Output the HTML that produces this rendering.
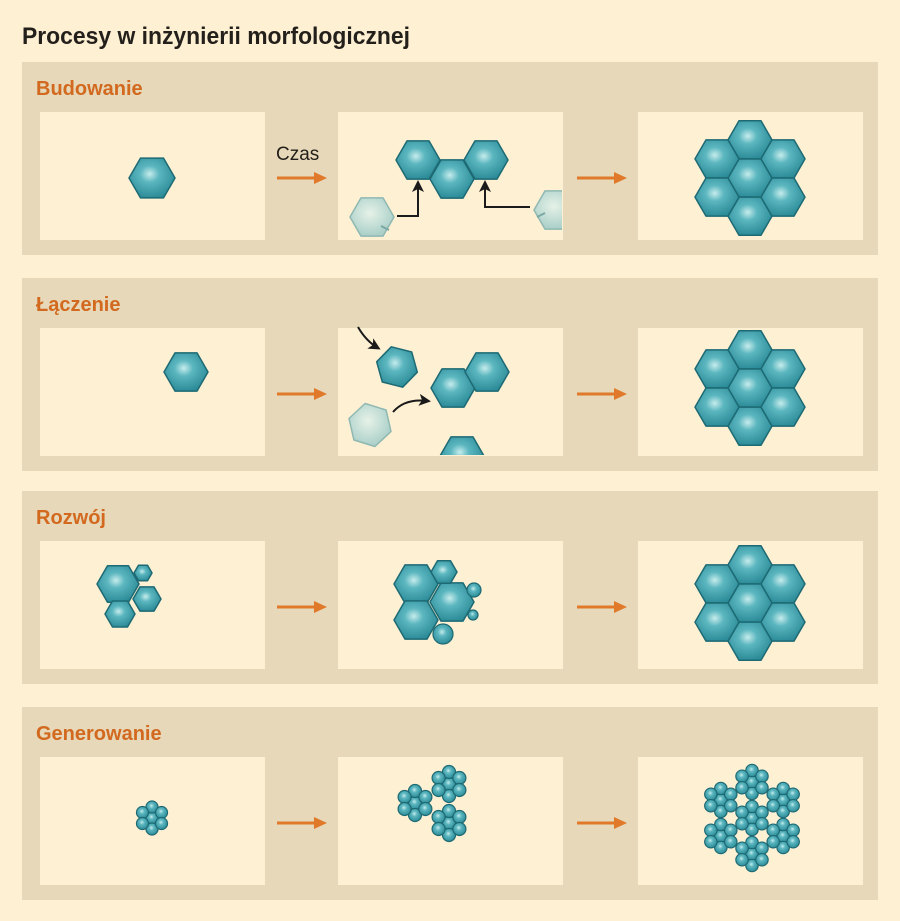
<!DOCTYPE html>
<html><head><meta charset="utf-8"><style>
html,body{margin:0;padding:0;background:#fdf0d3;}
svg{display:block;}
</style></head><body>
<svg id="s" width="900" height="921" xmlns="http://www.w3.org/2000/svg">
<defs>
<radialGradient id="g" cx="0.45" cy="0.4" r="0.6">
<stop offset="0" stop-color="#c6ecec"/><stop offset="0.35" stop-color="#5bb6bf"/><stop offset="1" stop-color="#2c8c98"/>
</radialGradient>
<radialGradient id="gf" cx="0.45" cy="0.4" r="0.6">
<stop offset="0" stop-color="#e6f2e8"/><stop offset="1" stop-color="#a9cfc8"/>
</radialGradient>
<marker id="ah" markerWidth="12" markerHeight="12" refX="9" refY="6" orient="auto" markerUnits="userSpaceOnUse">
<path d="M0,0 L12,6 L0,12 L3,6 Z" fill="#1a1a1a"/></marker>
<clipPath id="c12"><rect x="338" y="112" width="224" height="128"/></clipPath>
<clipPath id="c22"><rect x="338" y="327" width="224" height="128"/></clipPath>
</defs>
<rect width="900" height="921" fill="#fdf0d3"/>
<text x="22" y="44" font-family="Liberation Sans, sans-serif" font-weight="bold" font-size="24" fill="#231f1a" textLength="388" lengthAdjust="spacingAndGlyphs">Procesy w inżynierii morfologicznej</text>
<g id="bands"></g>
<g id="art"></g>
</svg>
<script>
var S='http://www.w3.org/2000/svg';
function el(p,t,a){var e=document.createElementNS(S,t);for(var k in a)e.setAttribute(k,a[k]);p.appendChild(e);return e;}
var B=document.getElementById('bands'),A=document.getElementById('art');
var rows=[[62,'Budowanie'],[278,'Łączenie'],[491,'Rozwój'],[707,'Generowanie']];
rows.forEach(function(r){var y=r[0];
 el(B,'rect',{x:22,y:y,width:856,height:193,fill:'#e6d8b9'});
 var t=el(B,'text',{x:36,y:y+33,'font-family':'Liberation Sans, sans-serif','font-weight':'bold','font-size':20,fill:'#d2691e'});t.textContent=r[1];
 [40,338,638].forEach(function(x){el(B,'rect',{x:x,y:y+50,width:225,height:128,fill:'#fef0d3'});});
 [[277,327],[577,627]].forEach(function(a){var cy=y+116;
  el(B,'line',{x1:a[0],y1:cy,x2:a[1]-10,y2:cy,stroke:'#e07a2a','stroke-width':3});
  el(B,'path',{d:'M'+a[1]+','+cy+' L'+(a[1]-13)+','+(cy-6)+' L'+(a[1]-13)+','+(cy+6)+'Z',fill:'#e07a2a'});});
});
var ct=el(B,'text',{x:276,y:160,'font-family':'Liberation Sans, sans-serif','font-size':19,fill:'#231f1a'});ct.textContent='Czas';
function hex(p,cx,cy,r,faded,rot){var pts=[];for(var i=0;i<6;i++){var a=Math.PI/3*i+(rot||0);pts.push((cx+r*Math.cos(a)).toFixed(1)+','+(cy+r*Math.sin(a)).toFixed(1));}
 el(p,'polygon',{points:pts.join(' '),fill:faded?'url(#gf)':'url(#g)',stroke:faded?'#8fb8b2':'#1d6a74','stroke-width':1.5,'stroke-linejoin':'round'});}
function cluster(p,cx,cy,r){var h=Math.sqrt(3)*r;hex(p,cx,cy,r);
 [[0,-h],[0,h],[1.5*r,-h/2],[1.5*r,h/2],[-1.5*r,-h/2],[-1.5*r,h/2]].forEach(function(o){hex(p,cx+o[0],cy+o[1],r);});}
function circ(p,x,y,r){el(p,'circle',{cx:x,cy:y,r:r,fill:'url(#g)',stroke:'#1d6a74','stroke-width':1.2});}
function flower(p,cx,cy,d,r){circ(p,cx,cy,r);var h=d*Math.sqrt(3)/2;
 [[0,-d],[0,d],[h,-d/2],[h,d/2],[-h,-d/2],[-h,d/2]].forEach(function(o){circ(p,cx+o[0],cy+o[1],r);});}
// Row1
hex(A,152,178,23);
var g1=el(A,'g',{'clip-path':'url(#c12)'});
hex(g1,372,217,22,1);hex(g1,556,210,22,1);
el(g1,'line',{x1:381,y1:226,x2:389,y2:230,stroke:'#7aa8a4','stroke-width':2});
el(g1,'line',{x1:537,y1:217,x2:545,y2:213,stroke:'#7aa8a4','stroke-width':2});
hex(A,452,179,22);hex(A,418,160,22);hex(A,486,160,22);
el(A,'polyline',{points:'397,216 418,216 418,183',fill:'none',stroke:'#1a1a1a','stroke-width':2,'marker-end':'url(#ah)'});
el(A,'polyline',{points:'530,207 485,207 485,183',fill:'none',stroke:'#1a1a1a','stroke-width':2,'marker-end':'url(#ah)'});
cluster(A,750,178,22);
// Row2
hex(A,186,372,22);
var g2=el(A,'g',{'clip-path':'url(#c22)'});
hex(g2,370,425,22,1,0.3);hex(g2,462,456,22);
hex(A,397,367,21,0,0.25);hex(A,453,388,22);hex(A,487,372,22);
el(A,'path',{d:'M358,327 Q366,341 378,348',fill:'none',stroke:'#1a1a1a','stroke-width':2,'marker-end':'url(#ah)'});
el(A,'path',{d:'M393,412 Q405,398 428,401',fill:'none',stroke:'#1a1a1a','stroke-width':2,'marker-end':'url(#ah)'});
cluster(A,750,388,22);
// Row3
hex(A,118,584,21);hex(A,120,614,15);hex(A,147,599,14);hex(A,143,573,9);
hex(A,416,584,22);hex(A,416,620,22);hex(A,452,602,22);hex(A,444,572,13);
circ(A,474,590,7);circ(A,473,615,5);circ(A,443,634,10);
cluster(A,750,603,22);
// Row4
flower(A,152,818,11,6);
flower(A,415,803,12,6.5);flower(A,449,784,12,6.5);flower(A,449,823,12,6.5);
flower(A,752,818,11.5,6.2);
for(var k=0;k<6;k++){var a=Math.PI/3*k+Math.PI/2;var D=36;flower(A,752+D*Math.cos(a),818+D*Math.sin(a),11.5,6.2);}
</script>
</body></html>
